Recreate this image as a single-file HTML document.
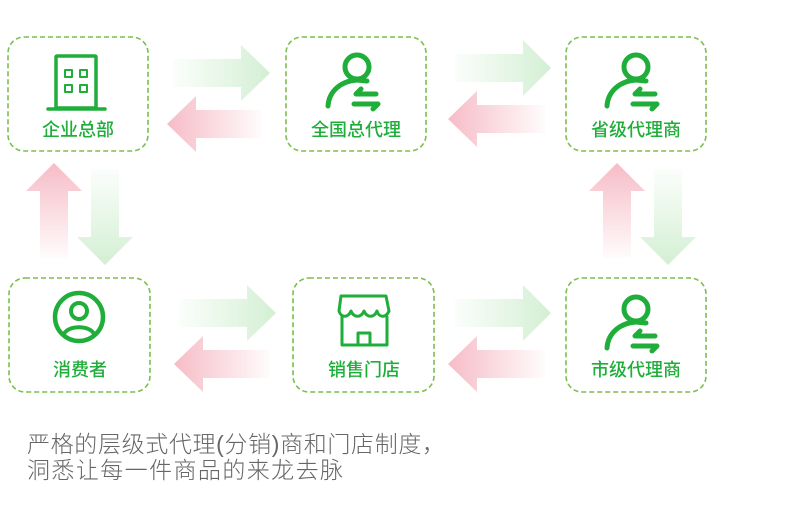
<!DOCTYPE html>
<html><head><meta charset="utf-8"><style>
html,body{margin:0;padding:0;background:#fff;}
svg{display:block}
</style></head><body>
<svg width="794" height="518" viewBox="0 0 794 518" xmlns="http://www.w3.org/2000/svg">
<defs>
<linearGradient id="gR" x1="0" y1="0" x2="1" y2="0"><stop offset="0" stop-color="#d6f1d6" stop-opacity="0.1"/><stop offset="1" stop-color="#d3efd3"/></linearGradient>
<linearGradient id="pL" x1="0" y1="0" x2="1" y2="0"><stop offset="0" stop-color="#f6bcc6"/><stop offset="1" stop-color="#f6bcc6" stop-opacity="0.05"/></linearGradient>
<linearGradient id="pU" x1="0" y1="0" x2="0" y2="1"><stop offset="0" stop-color="#f6bcc6"/><stop offset="1" stop-color="#f6bcc6" stop-opacity="0.05"/></linearGradient>
<linearGradient id="gD" x1="0" y1="0" x2="0" y2="1"><stop offset="0" stop-color="#d6f1d6" stop-opacity="0.1"/><stop offset="1" stop-color="#d3efd3"/></linearGradient>
</defs>

<g fill="none" stroke="#7cbf4e" stroke-width="1.6" stroke-dasharray="5,3">
<rect x="8" y="37" width="140" height="114" rx="16"/>
<rect x="286" y="37" width="140" height="114" rx="16"/>
<rect x="566" y="37" width="140" height="114" rx="16"/>
<rect x="9" y="278" width="141" height="114" rx="16"/>
<rect x="293" y="278" width="141" height="114" rx="16"/>
<rect x="566" y="278" width="140" height="114" rx="16"/>
</g>

<path d="M173,59 H241 V45 L270,73 L241,101 V87 H173 Z" fill="url(#gR)"/>
<path d="M262,110 H196 V96 L167,124 L196,152 V138 H262 Z" fill="url(#pL)"/>
<path d="M455,54 H523 V40 L551,68 L523,96 V82 H455 Z" fill="url(#gR)"/>
<path d="M545,105 H477 V91 L448,119 L477,147 V133 H545 Z" fill="url(#pL)"/>
<path d="M179,299 H247 V285 L276,313 L247,341 V327 H179 Z" fill="url(#gR)"/>
<path d="M270,350 H203 V336 L174,364 L203,392 V378 H270 Z" fill="url(#pL)"/>
<path d="M455,299 H523 V285 L551,313 L523,341 V327 H455 Z" fill="url(#gR)"/>
<path d="M545,350 H477 V336 L448,364 L477,392 V378 H545 Z" fill="url(#pL)"/>

<path d="M40,258 V191 H26 L54,163 L82,191 H68 V258 Z" fill="url(#pU)"/>
<path d="M91,169 V237 H77 L105,265 L133,237 H119 V169 Z" fill="url(#gD)"/>
<path d="M603,258 V191 H589 L617,163 L645,191 H631 V258 Z" fill="url(#pU)"/>
<path d="M654,169 V237 H640 L668,265 L696,237 H682 V169 Z" fill="url(#gD)"/>

<g fill="none" stroke="#1fae3a" stroke-width="3.5" stroke-linecap="round" stroke-linejoin="round">
<rect x="56" y="56" width="40" height="52" rx="1"/>
<line x1="48" y1="109" x2="105" y2="109"/>
<g stroke-width="2"><rect x="65" y="70" width="7" height="7"/><rect x="80" y="70" width="7" height="7"/><rect x="65" y="85" width="7" height="7"/><rect x="80" y="85" width="7" height="7"/></g>
</g>
<g fill="none" stroke="#1fae3a" stroke-width="5" stroke-linecap="round" stroke-linejoin="round">
<g transform="translate(357,0)">
<circle cx="0" cy="67" r="12"/>
<path d="M-29,106 C-28,91 -16,81 0,80 L10,81"/>
<path d="M19,94 H-1 L4,89"/>
<path d="M-3,104 H21 L16,109"/>
</g>
<g transform="translate(636,0)">
<circle cx="0" cy="67" r="12"/>
<path d="M-29,106 C-28,91 -16,81 0,80 L10,81"/>
<path d="M19,94 H-1 L4,89"/>
<path d="M-3,104 H21 L16,109"/>
</g>
<g transform="translate(636,242)">
<circle cx="0" cy="67" r="12"/>
<path d="M-29,106 C-28,91 -16,81 0,80 L10,81"/>
<path d="M19,94 H-1 L4,89"/>
<path d="M-3,104 H21 L16,109"/>
</g>
<circle cx="79" cy="317" r="24" stroke-width="4.5"/>
<circle cx="79" cy="311" r="8" stroke-width="4"/>
<path d="M64,334 C68,325 90,325 94,334" stroke-width="4"/>
</g>
<g fill="none" stroke="#1fae3a" stroke-width="3" stroke-linecap="round" stroke-linejoin="round">
<path d="M341,296 H386 L389,311 C386,318 379,318 377,311 C374,318 367,318 364,311 C361,318 354,318 351,311 C348,318 341,318 339,311 Z"/>
<path d="M342,317 V345 H387 V317"/>
<path d="M358,345 V333 H370 V345"/>
</g>

<g font-family="Liberation Sans, 'Noto Sans CJK SC', sans-serif" font-size="18" fill="#1fae3a" text-anchor="middle" font-weight="500">
<text x="78" y="136">企业总部</text>
<text x="356" y="136">全国总代理</text>
<text x="636" y="136">省级代理商</text>
<text x="80" y="376">消费者</text>
<text x="364" y="376">销售门店</text>
<text x="636" y="376">市级代理商</text>
</g>
<g font-family="Liberation Sans, 'Noto Sans CJK SC', sans-serif" font-size="23" fill="#666" font-weight="300">
<text x="27" y="452" textLength="418" lengthAdjust="spacing">严格的层级式代理(分销)商和门店制度，</text>
<text x="27" y="478" textLength="316" lengthAdjust="spacing">洞悉让每一件商品的来龙去脉</text>
</g>
</svg>
</body></html>
